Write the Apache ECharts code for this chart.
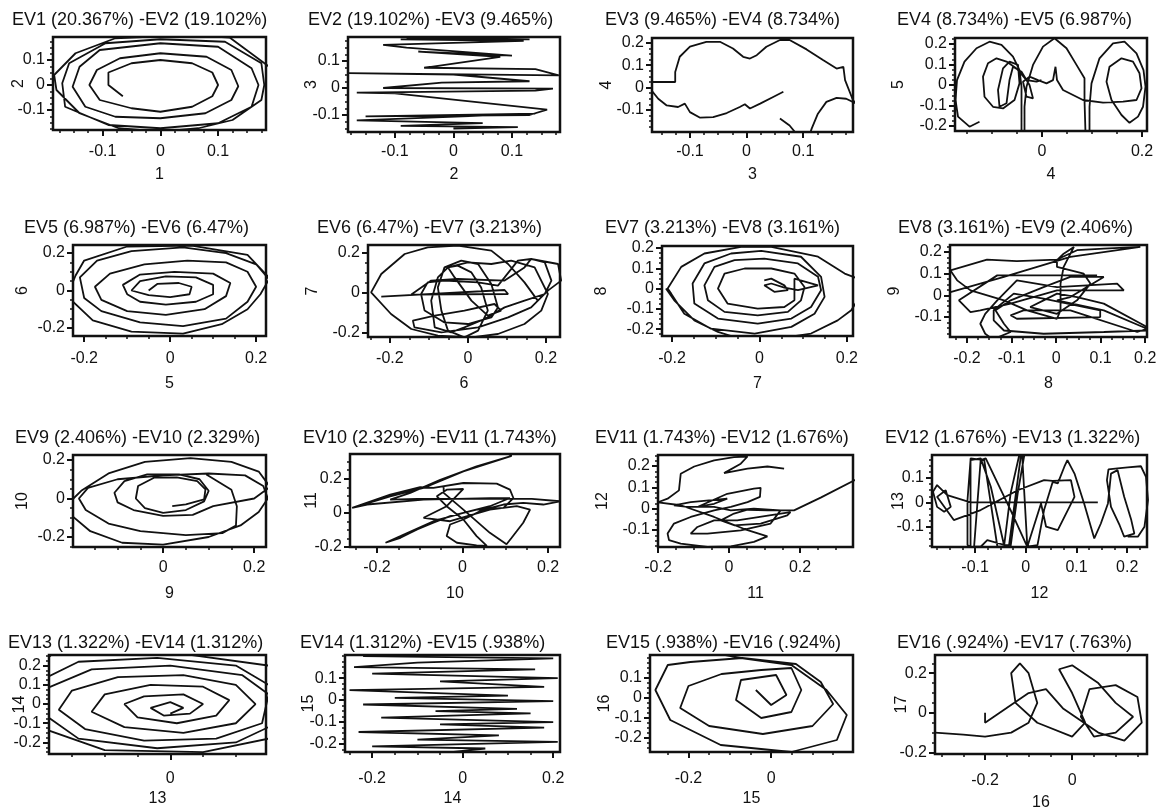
<!DOCTYPE html>
<html><head><meta charset="utf-8">
<script src="https://cdn.jsdelivr.net/npm/echarts@6/dist/echarts.min.js"></script>
<style>html,body{margin:0;padding:0;background:#fff}#c{width:1164px;height:812px}</style>
</head><body><div id="c"></div>
<script>
// ---------- texts ----------
const titles = ["EV1 (20.367%) -EV2 (19.102%)","EV2 (19.102%) -EV3 (9.465%)","EV3 (9.465%) -EV4 (8.734%)","EV4 (8.734%) -EV5 (6.987%)",
"EV5 (6.987%) -EV6 (6.47%)","EV6 (6.47%) -EV7 (3.213%)","EV7 (3.213%) -EV8 (3.161%)","EV8 (3.161%) -EV9 (2.406%)",
"EV9 (2.406%) -EV10 (2.329%)","EV10 (2.329%) -EV11 (1.743%)","EV11 (1.743%) -EV12 (1.676%)","EV12 (1.676%) -EV13 (1.322%)",
"EV13 (1.322%) -EV14 (1.312%)","EV14 (1.312%) -EV15 (.938%)","EV15 (.938%) -EV16 (.924%)","EV16 (.924%) -EV17 (.763%)"];
const xNames = ["1","2","3","4","5","6","7","8","9","10","11","12","13","14","15","16"];
const yNames = ["2","3","4","5","6","7","8","9","10","11","12","13","14","15","16","17"];
// ---------- axis ranges and tick labels ----------
const xRanges = [[-0.186,0.183],[-0.18,0.182],[-0.167,0.188],[-0.174,0.21],[-0.226,0.223],[-0.256,0.236],[-0.223,0.214],[-0.238,0.204],
[-0.198,0.226],[-0.263,0.228],[-0.2,0.349],[-0.185,0.239],[-0.185,0.146],[-0.26,0.215],[-0.293,0.198],[-0.315,0.172]];
const yRanges = [[-0.18,0.192],[-0.163,0.189],[-0.199,0.222],[-0.224,0.229],[-0.243,0.243],[-0.22,0.24],[-0.234,0.21],[-0.192,0.232],
[-0.252,0.226],[-0.2,0.345],[-0.18,0.252],[-0.182,0.194],[-0.26,0.255],[-0.236,0.205],[-0.27,0.215],[-0.208,0.292]];
const xTickLabels = [[-0.1,0,0.1],[-0.1,0,0.1],[-0.1,0,0.1],[0,0.2],[-0.2,0,0.2],[-0.2,0,0.2],[-0.2,0,0.2],[-0.2,-0.1,0,0.1,0.2],
[0,0.2],[-0.2,0,0.2],[-0.2,0,0.2],[-0.1,0,0.1,0.2],[0],[-0.2,0,0.2],[-0.2,0],[-0.2,0]];
const yTickLabels = [[-0.1,0,0.1],[-0.1,0,0.1],[-0.1,0,0.1,0.2],[-0.2,-0.1,0,0.1,0.2],[-0.2,0,0.2],[-0.2,0,0.2],[-0.2,-0.1,0,0.1,0.2],[-0.1,0,0.1,0.2],
[-0.2,0,0.2],[-0.2,0,0.2],[-0.1,0,0.1,0.2],[-0.1,0,0.1],[-0.2,-0.1,0,0.1,0.2],[-0.2,-0.1,0,0.1],[-0.2,-0.1,0,0.1],[-0.2,0,0.2]];
const xMinorStep = [0.025,0.025,0.025,0.05,0.05,0.05,0.05,0.025,0.05,0.05,0.05,0.025,0.05,0.05,0.05,0.05];
const yMinorStep = [0.025,0.025,0.025,0.025,0.05,0.05,0.025,0.025,0.05,0.05,0.025,0.025,0.025,0.025,0.025,0.05];

// ---------- trajectories ----------
const ev1_ev2 = [[-0.065,-0.045],[-0.09,0.0],[-0.09,0.05],[-0.05,0.087],[0,0.1],[0.055,0.087],[0.09,0.05],[0.1,0],[0.09,-0.045],[0.055,-0.087],[0,-0.107],[-0.05,-0.093],[-0.105,-0.06],[-0.123,0],[-0.11,0.06],[-0.07,0.107],[0,0.127],[0.08,0.113],[0.123,0.06],[0.135,-0.005],[0.123,-0.06],[0.078,-0.113],[0,-0.133],[-0.078,-0.127],[-0.13,-0.087],[-0.152,-0.007],[-0.14,0.073],[-0.105,0.14],[0,0.167],[0.1,0.153],[0.158,0.067],[0.17,0],[0.158,-0.087],[0.1,-0.153],[0,-0.173],[-0.09,-0.16],[-0.165,-0.087],[-0.17,0.007],[-0.158,0.087],[-0.095,0.167],[0,0.183],[0.112,0.173],[0.175,0.087],[0.18,0],[0.175,-0.06],[0.125,-0.14],[0.066,-0.173],[0,-0.187],[-0.072,-0.173],[-0.14,-0.113],[-0.18,-0.02],[-0.184,0.04],[-0.147,0.127],[-0.078,0.187],[0.05,0.2],[0.12,0.19],[0.19,0.07]];
const ev2_ev3 = [[-0.08,0.185],[0.13,0.18],[0.03,0.185],[-0.09,0.18],[0.12,0.175],[-0.12,0.16],[-0.08,0.15],[0.1,0.12],[-0.06,0.135],[0.08,0.115],[-0.05,0.075],[0.14,0.07],[0.18,0.047],[-0.18,0.055],[0.0,0.05],[0.13,0.025],[-0.02,0.02],[-0.12,0.0],[0.17,-0.002],[0.14,-0.01],[-0.165,-0.017],[-0.1,-0.02],[0.16,-0.08],[0.13,-0.1],[-0.15,-0.105],[0.14,-0.095],[-0.165,-0.12],[0.05,-0.13],[-0.09,-0.14],[0.11,-0.145],[0.0,-0.15]];
const ev3_ev4 = [[0.065,-0.019],[0.047,-0.042],[0.024,-0.072],[0.006,-0.094],[-0.003,-0.075],[-0.012,-0.087],[-0.035,-0.114],[-0.059,-0.132],[-0.082,-0.135],[-0.1,-0.11],[-0.109,-0.072],[-0.121,-0.087],[-0.141,-0.08],[-0.156,-0.05],[-0.168,-0.012],[-0.176,0.0],[-0.168,0.025],[-0.126,0.025],[-0.126,0.07],[-0.118,0.138],[-0.1,0.183],[-0.071,0.205],[-0.047,0.205],[-0.024,0.175],[-0.006,0.138],[0.006,0.13],[0.018,0.145],[0.035,0.183],[0.059,0.213],[0.076,0.213],[0.106,0.171],[0.135,0.123],[0.159,0.085],[0.171,0.093],[0.174,0.033],[0.188,-0.057],[0.194,-0.072],[0.176,-0.05],[0.159,-0.046],[0.141,-0.064],[0.126,-0.117],[0.115,-0.184],[0.112,-0.207],[0.088,-0.207],[0.076,-0.17],[0.059,-0.139]];
const ev4_ev5 = [[-0.125,-0.179],[-0.145,-0.203],[-0.168,-0.154],[-0.173,-0.073],[-0.17,0.024],[-0.155,0.114],[-0.131,0.179],[-0.105,0.211],[-0.081,0.195],[-0.058,0.138],[-0.045,0.073],[-0.041,-0.008],[-0.041,-0.106],[-0.041,-0.236],[-0.035,-0.236],[-0.035,-0.106],[-0.031,-0.008],[-0.018,0.098],[0.002,0.187],[0.025,0.228],[0.049,0.179],[0.069,0.098],[0.085,0.033],[0.085,-0.073],[0.087,-0.236],[0.095,-0.236],[0.095,-0.106],[0.099,0.008],[0.115,0.13],[0.142,0.203],[0.165,0.211],[0.189,0.154],[0.203,0.073],[0.207,-0.008],[0.202,-0.106],[0.192,-0.154],[0.175,-0.184],[0.159,-0.146],[0.139,-0.073],[0.129,0.016],[0.135,0.089],[0.159,0.13],[0.182,0.114],[0.195,0.057],[0.199,-0.016],[0.189,-0.073],[0.162,-0.081],[0.122,-0.086],[0.082,-0.073],[0.042,-0.024],[0.03,0.024],[0.027,0.089],[0.022,0.024],[0.009,0.008],[-0.008,0.024],[-0.025,0.041],[-0.038,0.016],[-0.031,-0.057],[-0.018,-0.065],[-0.025,0.0],[-0.041,0.065],[-0.058,0.089],[-0.065,0.024],[-0.071,-0.089],[-0.085,-0.106],[-0.088,-0.024],[-0.078,0.081],[-0.065,0.114],[-0.048,0.098],[-0.045,0.008],[-0.055,-0.073],[-0.078,-0.114],[-0.098,-0.106],[-0.115,-0.057],[-0.118,0.041],[-0.108,0.106],[-0.091,0.13],[-0.071,0.114],[-0.051,0.081],[-0.031,0.024],[-0.011,0.016],[-0.001,0.024]];
const ev5_ev6 = [[-0.05,0.0],[-0.03,0.035],[0.02,0.04],[0.05,0.02],[0.045,-0.02],[0.0,-0.035],[-0.05,-0.025],[-0.09,0.0],[-0.07,0.05],[-0.01,0.075],[0.06,0.07],[0.1,0.03],[0.1,-0.02],[0.06,-0.06],[-0.01,-0.075],[-0.07,-0.06],[-0.1,-0.02],[-0.11,0.03],[-0.07,0.085],[0.01,0.1],[0.1,0.09],[0.14,0.04],[0.13,-0.03],[0.08,-0.1],[-0.01,-0.13],[-0.1,-0.11],[-0.16,-0.05],[-0.175,0.02],[-0.14,0.09],[-0.06,0.14],[0.04,0.16],[0.13,0.15],[0.18,0.1],[0.2,0.02],[0.18,-0.06],[0.13,-0.15],[0.03,-0.19],[-0.07,-0.17],[-0.16,-0.11],[-0.2,-0.04],[-0.21,0.07],[-0.17,0.16],[-0.09,0.21],[0.03,0.23],[0.13,0.2],[0.2,0.14],[0.23,0.06],[0.21,-0.02],[0.18,-0.1],[0.12,-0.18],[0.03,-0.23],[-0.09,-0.22],[-0.18,-0.16],[-0.24,-0.03],[-0.22,0.08],[-0.2,0.16],[-0.1,0.235],[0.05,0.24],[0.18,0.19],[0.25,0.02]];
const ev6_ev7 = [[-0.222,-0.018],[0.094,0.015],[0.103,-0.005],[-0.145,-0.008],[-0.094,0.062],[-0.026,0.07],[0.094,0.062],[0.145,0.128],[0.162,0.17],[0.231,0.145],[0.239,0.062],[0.205,0.012],[0.162,-0.072],[0.103,-0.122],[0.026,-0.172],[-0.068,-0.197],[-0.137,-0.172],[-0.141,-0.138],[-0.085,-0.113],[-0.009,-0.088],[0.068,-0.055],[0.085,-0.088],[0.051,-0.113],[0.009,-0.038],[-0.034,0.078],[-0.051,0.128],[-0.026,0.137],[0.009,0.103],[0.034,0.028],[0.051,-0.088],[0.026,-0.188],[-0.009,-0.222],[-0.051,-0.188],[-0.068,-0.088],[-0.077,0.028],[-0.06,0.128],[-0.017,0.162],[0.026,0.145],[0.06,0.045],[0.077,-0.072],[0.06,-0.122],[0,-0.155],[-0.06,-0.147],[-0.111,-0.088],[-0.12,-0.005],[-0.103,0.053],[-0.06,0.062],[0.026,0.053],[0.077,0.037],[0.094,0.078],[0.128,0.162],[0.162,0.17],[0.197,0.153],[0.214,0.062],[0.197,-0.005],[0.145,-0.038],[0.094,-0.072],[0.043,-0.13],[-0.009,-0.172],[-0.043,-0.197],[-0.085,-0.172],[-0.094,-0.038],[-0.077,0.078],[-0.051,0.128],[0,0.153],[0.06,0.145],[0.111,0.162],[0.171,0.128],[0.205,-0.005],[0.188,-0.088],[0.145,-0.155],[0.077,-0.205],[0.009,-0.222],[-0.077,-0.213],[-0.145,-0.18],[-0.197,-0.105],[-0.248,0.003],[-0.222,0.095],[-0.162,0.195],[-0.103,0.228],[-0.026,0.237],[0.06,0.212],[0.103,0.145],[0.145,0.053],[0.179,-0.038]];
const ev7_ev8 = [[0.011,0.041],[0.027,0.049],[0.057,0.016],[0.065,-0.008],[0.034,-0.016],[0.011,0.016],[0.027,0.025],[0.057,0.005],[0.088,-0.008],[0.134,0.016],[0.08,0.049],[0.08,-0.058],[0.057,-0.091],[-0.004,-0.099],[-0.073,-0.074],[-0.095,0],[-0.08,0.074],[-0.034,0.099],[0.027,0.099],[0.08,0.074],[0.103,0.008],[0.095,-0.058],[0.065,-0.115],[-0.004,-0.132],[-0.08,-0.115],[-0.118,-0.058],[-0.126,0.016],[-0.103,0.107],[-0.057,0.14],[0.011,0.148],[0.088,0.124],[0.134,0.058],[0.141,-0.008],[0.118,-0.091],[0.073,-0.148],[-0.004,-0.173],[-0.095,-0.148],[-0.149,-0.074],[-0.153,0.025],[-0.126,0.124],[-0.065,0.173],[0.004,0.186],[0.095,0.157],[0.141,0.058],[0.149,-0.041],[0.126,-0.124],[0.073,-0.189],[-0.011,-0.222],[-0.111,-0.198],[-0.172,-0.124],[-0.202,-0.025],[-0.21,0],[-0.179,0.107],[-0.126,0.173],[-0.042,0.206],[0.027,0.206],[0.134,0.157],[0.195,0.074],[0.225,0.049],[0.229,-0.041],[0.21,-0.107],[0.179,-0.157],[0.118,-0.222],[0.057,-0.242],[-0.057,-0.239],[-0.095,-0.214],[-0.149,-0.157],[-0.195,-0.058],[-0.214,0]];
const ev8_ev9 = [[0.092,0.092],[-0.132,0.092],[-0.218,-0.023],[-0.192,-0.077],[-0.17,-0.069],[-0.102,-0.038],[0.002,0.023],[0.152,0.023],[0.137,0.054],[0.002,0.038],[-0.088,0.069],[-0.132,-0.023],[-0.159,-0.085],[-0.17,-0.131],[-0.159,-0.177],[-0.147,-0.195],[-0.132,-0.195],[-0.102,-0.169],[-0.117,-0.131],[-0.136,-0.069],[-0.102,-0.023],[-0.028,0.038],[0.032,0.085],[0.107,0.085],[0.032,-0.008],[0.002,-0.023],[0.107,-0.069],[0.204,-0.154],[0.182,-0.169],[0.032,-0.069],[-0.073,-0.069],[-0.102,-0.092],[-0.088,-0.108],[0.099,-0.1],[0.099,-0.069],[-0.028,-0.015],[-0.095,0.008],[-0.14,-0.069],[-0.14,-0.115],[-0.117,-0.162],[-0.028,-0.177],[0.107,-0.169],[0.204,-0.162],[0.204,-0.146],[0.107,-0.038],[0.047,-0.008],[0.002,0.008],[-0.028,-0.023],[-0.058,-0.054],[0.002,-0.085],[0.047,-0.023],[0.077,0.054],[0.062,0.1],[0.002,0.131],[0.002,0.162],[0.017,0.192],[0.04,0.223],[0.017,0.131],[0.01,0.054],[0.01,-0.069],[0.002,-0.108],[-0.065,-0.069],[-0.117,-0.023],[-0.192,0.023],[-0.222,0.069],[-0.237,0.115],[-0.155,0.165],[-0.088,0.158],[0.002,0.165],[0.047,0.208],[0.107,0.215],[0.189,0.223],[0.032,0.177],[-0.117,0.085],[-0.237,0.015]];
const ev9_ev10 = [[0.095,0.125],[0.15,0.045],[0.162,-0.04],[0.16,-0.14],[0.13,-0.18],[0.05,-0.19],[-0.05,-0.17],[-0.12,-0.13],[-0.17,-0.06],[-0.185,0.0],[-0.165,0.055],[-0.1,0.1],[0.0,0.12],[0.1,0.13],[0.18,0.12],[0.22,0.065],[0.23,0.0],[0.21,-0.07],[0.17,-0.14],[0.1,-0.2],[0.0,-0.24],[-0.09,-0.23],[-0.16,-0.17],[-0.2,-0.09],[-0.21,-0.03],[-0.18,0.04],[-0.12,0.13],[-0.04,0.19],[0.06,0.21],[0.15,0.19],[0.21,0.14],[0.235,0.06],[0.2,0.0],[0.11,-0.04],[0.065,-0.085],[0.0,-0.09],[-0.065,-0.06],[-0.1,-0.02],[-0.107,0.03],[-0.085,0.09],[-0.035,0.125],[0.035,0.125],[0.08,0.1],[0.1,0.04],[0.09,-0.015],[0.05,-0.06],[0.0,-0.075],[-0.04,-0.05],[-0.06,0.0],[-0.055,0.065],[-0.02,0.108],[0.03,0.11],[0.075,0.09],[0.093,0.047],[0.09,-0.005],[0.05,-0.03],[0.02,-0.04]];
const ev10_ev11 = [[-0.258,0.029],[-0.169,0.107],[-0.099,0.151],[-0.068,0.146],[0.002,0.175],[0.08,0.171],[0.111,0.136],[0.119,0.087],[0.096,0.029],[0.033,0.019],[-0.029,-0.019],[-0.068,-0.058],[-0.106,-0.097],[-0.145,-0.146],[-0.18,-0.175],[-0.145,-0.136],[-0.068,-0.049],[0.002,0],[0.064,0.039],[0.111,0.087],[0.064,0.087],[-0.091,0.078],[-0.223,0.049],[-0.258,0.029],[-0.169,0.097],[-0.091,0.146],[0.002,0.243],[0.115,0.334],[0.033,0.272],[-0.052,0.194],[-0.122,0.117],[-0.169,0.078],[-0.106,0.082],[0.162,0.082],[0.228,0.068],[0.189,0.049],[0.142,0.058],[0.096,0.049],[0.049,0.019],[0.002,-0.039],[-0.029,-0.068],[-0.037,-0.136],[-0.013,-0.175],[0.033,-0.19],[0.057,-0.194],[0.033,-0.136],[0.002,-0.039],[-0.037,0.039],[-0.06,0.097],[-0.037,0.136],[0.002,0.14],[-0.037,0.039],[-0.091,-0.029],[-0.029,-0.049],[0.064,0.019],[0.127,0.039],[0.158,0.019],[0.142,-0.058],[0.115,-0.146],[0.103,-0.184],[0.064,-0.117],[0.002,0.019],[-0.044,0.117],[-0.044,0.155]];
const ev11_ev12 = [[0.37,0.148],[0.258,0.052],[0.183,-0.008],[0.108,-0.008],[0.052,-0.005],[0.014,-0.023],[-0.023,-0.055],[0.014,-0.078],[0.089,-0.07],[0.164,-0.031],[0.173,-0.016],[0.023,-0.055],[-0.042,-0.055],[-0.089,-0.086],[-0.108,-0.117],[-0.061,-0.117],[0.033,-0.102],[0.117,-0.07],[0.145,-0.008],[0.07,0],[0.005,-0.008],[-0.042,0.008],[-0.117,0.008],[-0.155,0.016],[-0.108,0.031],[-0.005,0.047],[-0.042,0.023],[-0.089,0.008],[-0.005,0.07],[0.07,0.094],[0.089,0.098],[0.087,0.055],[0.052,0.031],[0.005,0.008],[-0.042,-0.008],[-0.108,-0.039],[-0.155,-0.07],[-0.173,-0.117],[-0.169,-0.148],[-0.136,-0.164],[-0.061,-0.18],[0.005,-0.177],[0.07,-0.156],[0.108,-0.13],[0.05,-0.1],[-0.042,-0.039],[-0.136,0.016],[-0.2,0.03],[-0.173,0.047],[-0.141,0.086],[-0.136,0.164],[-0.098,0.198],[-0.042,0.227],[0.014,0.242],[0.052,0.245],[0.033,0.211],[-0.014,0.167],[0.052,0.188],[0.108,0.198],[0.155,0.188]];
const ev12_ev13 = [[0.142,0],[-0.109,0],[-0.155,0.03],[-0.175,0.071],[-0.183,0.044],[-0.175,-0.018],[-0.161,-0.038],[-0.148,-0.018],[-0.158,0.05],[-0.175,0.023],[-0.142,-0.072],[-0.089,-0.031],[-0.016,0.05],[0.036,0.091],[0.053,0.088],[0.089,0.091],[0.096,0.023],[0.063,-0.113],[0.04,-0.099],[0.03,-0.004],[0.003,-0.181],[-0.007,0.186],[-0.013,0.193],[-0.03,0.037],[-0.043,-0.181],[-0.056,-0.181],[-0.082,0.173],[-0.109,0.18],[-0.109,-0.181],[-0.115,-0.174],[-0.115,0.01],[-0.109,0.173],[-0.089,0.18],[-0.069,0.064],[-0.043,-0.174],[-0.033,-0.174],[-0.01,0.186],[-0.003,0.193],[-0.016,0.037],[-0.03,-0.181],[-0.076,-0.154],[-0.089,-0.181],[-0.102,-0.181],[-0.089,0.173],[-0.079,0.18],[-0.03,-0.031],[0.003,-0.181],[0.023,-0.174],[0.036,-0.031],[0.053,0.084],[0.063,0.078],[0.076,0.146],[0.082,0.173],[0.096,0.118],[0.115,-0.004],[0.135,-0.147],[0.148,-0.086],[0.162,-0.004],[0.168,0.118],[0.181,0.132],[0.194,0.023],[0.208,-0.072],[0.214,-0.127],[0.194,-0.14],[0.185,-0.093],[0.168,-0.018],[0.16,0.091],[0.163,0.135],[0.181,0.139],[0.201,0.143],[0.227,0.148],[0.237,0.105],[0.241,0.01],[0.234,-0.099],[0.221,-0.14],[0.201,-0.14]];
const ev13_ev14 = [[0.0,-0.05],[0.02,-0.02],[0.0,0.01],[-0.03,-0.02],[-0.01,-0.06],[0.03,-0.05],[0.05,0.0],[0.02,0.05],[-0.04,0.04],[-0.07,0.0],[-0.05,-0.07],[0.01,-0.1],[0.07,-0.06],[0.09,0.02],[0.05,0.09],[-0.03,0.1],[-0.1,0.05],[-0.12,-0.04],[-0.07,-0.12],[0.02,-0.15],[0.1,-0.1],[0.13,0.0],[0.1,0.1],[0.02,0.15],[-0.08,0.14],[-0.15,0.07],[-0.17,-0.03],[-0.13,-0.13],[-0.04,-0.19],[0.07,-0.18],[0.14,-0.1],[0.15,0.05],[0.11,0.15],[0.0,0.2],[-0.12,0.18],[-0.19,0.08],[-0.19,-0.06],[-0.14,-0.18],[-0.02,-0.23],[0.1,-0.2],[0.15,-0.12],[0.16,0.08],[0.1,0.2],[-0.02,0.24],[-0.14,0.22],[-0.2,0.12],[-0.21,0.0],[-0.2,-0.12],[-0.1,-0.24],[0.05,-0.25],[0.15,-0.18],[0.17,0.0],[0.15,0.2],[0.0,0.27],[-0.18,0.26],[-0.2,0.2]];
const ev14_ev15 = [[-0.22,0.2],[0.2,0.19],[-0.1,0.17],[-0.24,0.15],[0.16,0.14],[-0.2,0.12],[0.21,0.1],[-0.05,0.085],[0.18,0.06],[-0.25,0.045],[0.1,0.02],[-0.15,0.01],[0.2,-0.005],[-0.22,-0.02],[0.12,-0.04],[-0.06,-0.05],[0.15,-0.06],[-0.18,-0.08],[0.2,-0.1],[-0.05,-0.11],[0.18,-0.125],[-0.23,-0.145],[0.08,-0.16],[-0.1,-0.18],[0.21,-0.19],[-0.2,-0.21],[0.05,-0.22],[-0.02,-0.235]];
const ev15_ev16 = [[-0.037,0.04],[0.0,-0.035],[0.037,0.015],[0.012,0.115],[-0.073,0.09],[-0.085,-0.01],[-0.024,-0.1],[0.049,-0.07],[0.073,0.04],[0.049,0.15],[-0.024,0.14],[-0.12,0.12],[-0.2,0.06],[-0.22,-0.05],[-0.15,-0.14],[-0.02,-0.18],[0.1,-0.14],[0.15,-0.03],[0.12,0.08],[0.06,0.17],[-0.07,0.2],[-0.195,0.18],[-0.25,0.165],[-0.28,0.04],[-0.244,-0.11],[-0.122,-0.235],[0.049,-0.27],[0.159,-0.21],[0.183,-0.085],[0.134,0.04],[0.049,0.165],[-0.073,0.2],[-0.15,0.23]];
const ev16_ev17 = [[-0.315,-0.1],[-0.25,-0.11],[-0.2,-0.12],[-0.14,-0.1],[-0.1,-0.05],[-0.08,0.05],[-0.1,0.2],[-0.12,0.25],[-0.14,0.2],[-0.13,0.05],[-0.08,-0.05],[0.0,-0.12],[0.03,-0.05],[0.0,0.1],[-0.03,0.22],[0.0,0.24],[0.06,0.15],[0.1,0.05],[0.14,-0.02],[0.1,-0.1],[0.05,-0.12],[0.02,-0.02],[0.04,0.12],[0.1,0.14],[0.15,0.08],[0.16,-0.05],[0.12,-0.14],[0.06,-0.1],[-0.02,0.02],[-0.06,0.12],[-0.1,0.1],[-0.2,-0.05],[-0.2,0.0]];
const trajectories = [ev1_ev2,ev2_ev3,ev3_ev4,ev4_ev5,ev5_ev6,ev6_ev7,ev7_ev8,ev8_ev9,ev9_ev10,ev10_ev11,ev11_ev12,ev12_ev13,ev13_ev14,ev14_ev15,ev15_ev16,ev16_ev17];

// ---------- layout (pixels) ----------
const boxes = [[53,37,266,130],[348,37,560,132],[652,38,853,132],[955,38,1147,131],
[73,245,266,336],[368,245,560,337],[662,246,853,336],[950,245,1147,337],
[73,455,266,547],[350,454,560,547],[658,455,853,547],[932,455,1147,547],
[49,655,266,754],[345,655,560,752],[650,655,853,752],[935,655,1147,756]];
const titleLeft = [12,308,605,897,24,317,605,898,15,303,595,885,8,300,606,897];
const titleMidY = [20,20,20,20,228,228,228,228,438,438,438,438,643,643,643,643];
const xLabelMidY = [152,152,152,152,359,359,359,359,568,568,568,568,779,779,779,783];
const xNameMidY = [175,175,175,175,384,384,384,384,594,594,594,594,799,799,799,805];
const yNameMidX = [17,310,605,897,21,311,600,893,21,310,601,897,18,307,603,900];

const FONT = "'Liberation Sans', Arial, sans-serif";
const INK = '#111';
function fmt(v){ return String(Math.round(v*10)/10); }
function minorTicks(r, step, majors){
  const out=[]; const s=Math.ceil(r[0]/step-1e-9);
  for(let k=s; k*step<=r[1]+1e-9; k++){ const v=+(k*step).toFixed(4);
    if(!majors.some(m=>Math.abs(m-v)<1e-6)) out.push(v); }
  return out;
}
const option = {animation:false, backgroundColor:'#fff', title:[], grid:[], xAxis:[], yAxis:[], series:[]};
for(let i=0;i<16;i++){
  const [l,t,r,b] = boxes[i];
  option.title.push({text:titles[i], left:titleLeft[i], top:titleMidY[i]-9, padding:0,
    textStyle:{fontFamily:FONT,fontSize:18,fontWeight:'normal',color:INK}});
  option.grid.push({left:l, top:t, width:r-l, height:b-t, show:true, borderColor:INK, borderWidth:2.5, backgroundColor:'transparent'});
  const common = {type:'value', gridIndex:i, splitLine:{show:false}, axisLine:{show:false, onZero:false}};
  option.xAxis.push(Object.assign({}, common, {position:'bottom', min:xRanges[i][0], max:xRanges[i][1],
    name:xNames[i], nameLocation:'middle', nameGap:xNameMidY[i]-8-b, nameMoveOverlap:false,
    nameTextStyle:{fontFamily:FONT,fontSize:16,color:INK},
    axisTick:{show:true, inside:false, customValues:xTickLabels[i], length:6, lineStyle:{color:INK,width:2}},
    axisLabel:{customValues:xTickLabels[i], formatter:fmt, margin:xLabelMidY[i]-8-b, fontFamily:FONT, fontSize:16, color:INK}}));
  option.xAxis.push(Object.assign({}, common, {position:'bottom', min:xRanges[i][0], max:xRanges[i][1],
    axisLabel:{show:false}, axisTick:{show:true, customValues:minorTicks(xRanges[i], xMinorStep[i], xTickLabels[i]), length:3, lineStyle:{color:INK,width:1.5}}}));
  option.yAxis.push(Object.assign({}, common, {position:'left', min:yRanges[i][0], max:yRanges[i][1],
    name:yNames[i], nameLocation:'middle', nameGap:l-yNameMidX[i]-10, nameRotate:90, nameMoveOverlap:false,
    nameTextStyle:{fontFamily:FONT,fontSize:16,color:INK},
    axisTick:{show:true, customValues:yTickLabels[i], length:6, lineStyle:{color:INK,width:2}},
    axisLabel:{customValues:yTickLabels[i], formatter:fmt, margin:8, fontFamily:FONT, fontSize:16, color:INK}}));
  option.yAxis.push(Object.assign({}, common, {position:'left', min:yRanges[i][0], max:yRanges[i][1],
    axisLabel:{show:false}, axisTick:{show:true, customValues:minorTicks(yRanges[i], yMinorStep[i], yTickLabels[i]), length:3, lineStyle:{color:INK,width:1.5}}}));
  option.series.push({type:'line', xAxisIndex:2*i, yAxisIndex:2*i, data:trajectories[i],
    showSymbol:false, symbol:'none', clip:true, smooth:false,
    lineStyle:{color:INK,width:1.8}});
}
const chart = echarts.init(document.getElementById('c'), null, {renderer:'canvas'});
chart.setOption(option);
</script></body></html>
